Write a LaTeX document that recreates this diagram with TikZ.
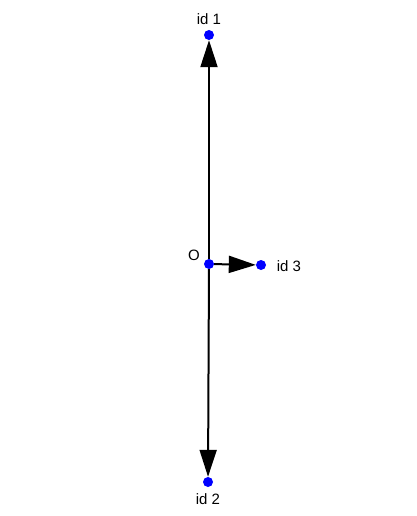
\documentclass[tikz,border=0pt]{standalone}
\usepackage{fontspec}
\setmainfont{Liberation Sans}
\usetikzlibrary{arrows.meta}
\definecolor{dotblue}{RGB}{0,0,255}
\tikzset{
  pt/.style={circle, fill=dotblue, draw=none, minimum size=10pt, inner sep=0pt},
  lbl/.style={font=\fontsize{15}{17}\selectfont, text=black, inner sep=0pt},
  vec/.style={line width=2pt, -{Triangle[length=27pt, width=17pt]}}
}
\begin{document}
\begin{tikzpicture}[x=1pt, y=-1pt]
\useasboundingbox (0,0) rectangle (416,516);
\fill[white] (0,0) rectangle (416,516);
\node[pt] (O) at (209,264) {};
\node[pt] (id1) at (209,35) {};
\node[pt] (id2) at (208,482) {};
\node[pt] (id3) at (261,265) {};
\draw[vec] (O) -- (id1);
\draw[vec] (O) -- (id2);
\draw[vec] (O) -- (id3);
\node[lbl] (lO) at (194,255) {O};
\node[lbl] (l1) at (209,19) {id 1};
\node[lbl] (l2) at (208,499) {id 2};
\node[lbl] (l3) at (289,266) {id 3};
\end{tikzpicture}
\end{document}
